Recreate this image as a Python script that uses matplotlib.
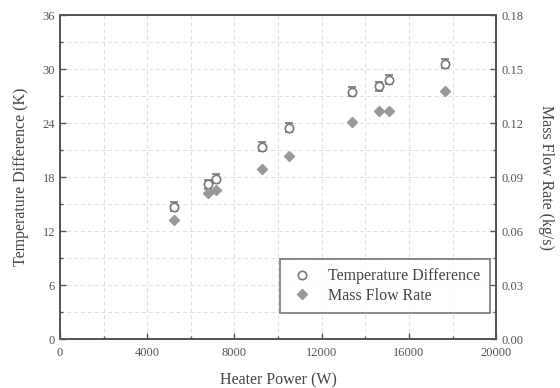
import matplotlib
matplotlib.use("Agg")
import matplotlib.pyplot as plt
from matplotlib.ticker import MultipleLocator
from matplotlib.lines import Line2D

plt.rcParams['font.family'] = ['Liberation Serif', 'DejaVu Serif']

# data
power = [5250, 6800, 7150, 9250, 10500, 13400, 14650, 15100, 17650]
temp_diff = [14.7, 17.2, 17.8, 21.4, 23.5, 27.5, 28.1, 28.8, 30.6]
temp_err = [0.5, 0.5, 0.5, 0.5, 0.5, 0.5, 0.5, 0.5, 0.5]
mass_flow = [0.066, 0.081, 0.083, 0.0945, 0.102, 0.1205, 0.127, 0.127, 0.138]

grey = '#555555'
fig, ax = plt.subplots(figsize=(5.6, 3.88), dpi=100)
fig.subplots_adjust(left=0.107, right=0.886, top=0.961, bottom=0.126)

ax2 = ax.twinx()

ax.errorbar(power, temp_diff, yerr=temp_err, fmt='o', mfc='white', mec='#777777',
            ecolor='#777777', ms=6, mew=1.2, capsize=3, elinewidth=1, zorder=3)
ax2.plot(power, mass_flow, 'D', color='#999999', ms=5.5, mec='#999999', zorder=3)

ax.set_xlim(0, 20000)
ax.set_ylim(0, 36)
ax2.set_ylim(0, 0.18)
ax.xaxis.set_major_locator(MultipleLocator(4000))
ax.xaxis.set_minor_locator(MultipleLocator(2000))
ax.yaxis.set_major_locator(MultipleLocator(6))
ax.yaxis.set_minor_locator(MultipleLocator(3))
ax2.yaxis.set_major_locator(MultipleLocator(0.03))
ax2.yaxis.set_minor_locator(MultipleLocator(0.015))
ax2.set_yticklabels(['%.2f' % v for v in ax2.get_yticks()])

ax.grid(True, which='both', linestyle=(0, (4, 3)), color='#dddddd', linewidth=0.7)
ax.set_axisbelow(True)

for a in (ax, ax2):
    for s in a.spines.values():
        s.set_color(grey)
        s.set_linewidth(1.3)
    a.tick_params(which='both', direction='in', colors=grey, labelcolor='#555555',
                  labelsize=9, width=1)
    a.tick_params(which='major', length=4)
    a.tick_params(which='minor', length=2)
ax.tick_params(axis='x', pad=6)

ax.set_xlabel('Heater Power (W)', fontsize=11.5, color='#444444', labelpad=9)
ax.set_ylabel('Temperature Difference (K)', fontsize=11.5, color='#444444', labelpad=10)
ax2.set_ylabel('Mass Flow Rate (kg/s)', fontsize=11.5, color='#444444',
               rotation=270, labelpad=22)

handles = [Line2D([], [], ls='none', marker='o', mfc='white', mec='#777777', ms=6, mew=1.2),
           Line2D([], [], ls='none', marker='D', color='#999999', ms=5.5)]
leg = ax2.legend(handles, ['Temperature Difference', 'Mass Flow Rate'],
                 loc='lower right', bbox_to_anchor=(0.985, 0.08), borderaxespad=0,
                 fontsize=11.5, frameon=True, fancybox=False, edgecolor=grey,
                 handletextpad=0.9, borderpad=0.6, labelspacing=0.2, handlelength=1.5)
leg.get_frame().set_linewidth(1.2)
for t in leg.get_texts():
    t.set_color('#444444')

fig.savefig('out.png', dpi=100)
